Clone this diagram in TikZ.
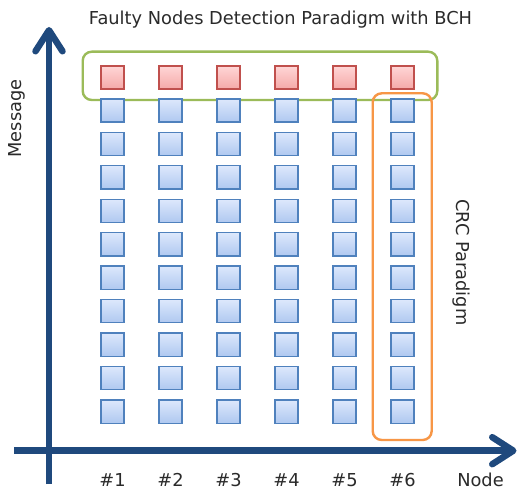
\documentclass[tikz,border=0pt]{standalone}
\usepackage{fontspec}
\setmainfont{DejaVu Sans}
\usetikzlibrary{arrows.meta}

\definecolor{axisblue}{HTML}{1F497D}
\definecolor{labelgray}{HTML}{2A2A2A}
\definecolor{redline}{HTML}{C0504D}
\definecolor{redtop}{HTML}{FFD6D6}
\definecolor{redbot}{HTML}{F5A9A8}
\definecolor{blueline}{HTML}{4F81BD}
\definecolor{bluetop}{HTML}{DDE8FC}
\definecolor{bluebot}{HTML}{AFC8F0}
\definecolor{bchgreen}{HTML}{9BBB59}
\definecolor{crcorange}{HTML}{F79646}

\begin{document}
\begin{tikzpicture}[x=1pt,y=-1pt,
  cell/.style={rectangle, line width=1.3pt, minimum size=23.2pt, inner sep=0pt},
  redcell/.style={cell, draw=redline, top color=redtop, bottom color=redbot},
  bluecell/.style={cell, draw=blueline, top color=bluetop, bottom color=bluebot},
  axisline/.style={draw=axisblue, line width=6.5pt,
    -{Straight Barb[length=21pt,width=27pt,round]}},
  lbl/.style={font=\fontsize{17.8}{20}\selectfont, text=labelgray, inner sep=0pt},
  groupbox/.style={line width=2.4pt, rounded corners=9pt}
]
\useasboundingbox[fill=white] (0,0) rectangle (517,489);

% BCH group (top row) and CRC group (last column)
\draw[groupbox, draw=bchgreen] (82.7,51.7) rectangle (437.3,100);
\draw[groupbox, draw=crcorange] (372.7,93.3) rectangle (431.7,440);

% message cells: one red row, ten blue rows, six node columns
\foreach \c in {1,...,6}{
  \pgfmathsetmacro{\cx}{112.5+58*(\c-1)}
  \node[redcell] (r\c) at (\cx,77.5) {};
  \foreach \r in {1,...,10}{
    \pgfmathsetmacro{\cy}{110.5+33.45*(\r-1)}
    \node[bluecell] (b\c-\r) at (\cx,\cy) {};
  }
  \node[lbl, anchor=base] (n\c) at (\cx,486) {\#\c};
}

% axes
\coordinate (ybot) at (49,484);
\coordinate (ytop) at (49,27);
\coordinate (xleft) at (14,450.7);
\coordinate (xright) at (516.5,450.7);
\draw[axisline] (ybot) -- (ytop);
\draw[axisline] (xleft) -- (xright);

% labels
\node[lbl, anchor=base] (title) at (280.5,25) {Faulty Nodes Detection Paradigm with BCH};
\node[lbl, anchor=base] (xlabel) at (480.5,486) {Node};
\node[lbl, anchor=base, rotate=90] (ylabel) at (21,118.5) {Message};
\node[lbl, anchor=base, rotate=-90] (crc) at (456.5,262.5) {CRC Paradigm};
\end{tikzpicture}
\end{document}
